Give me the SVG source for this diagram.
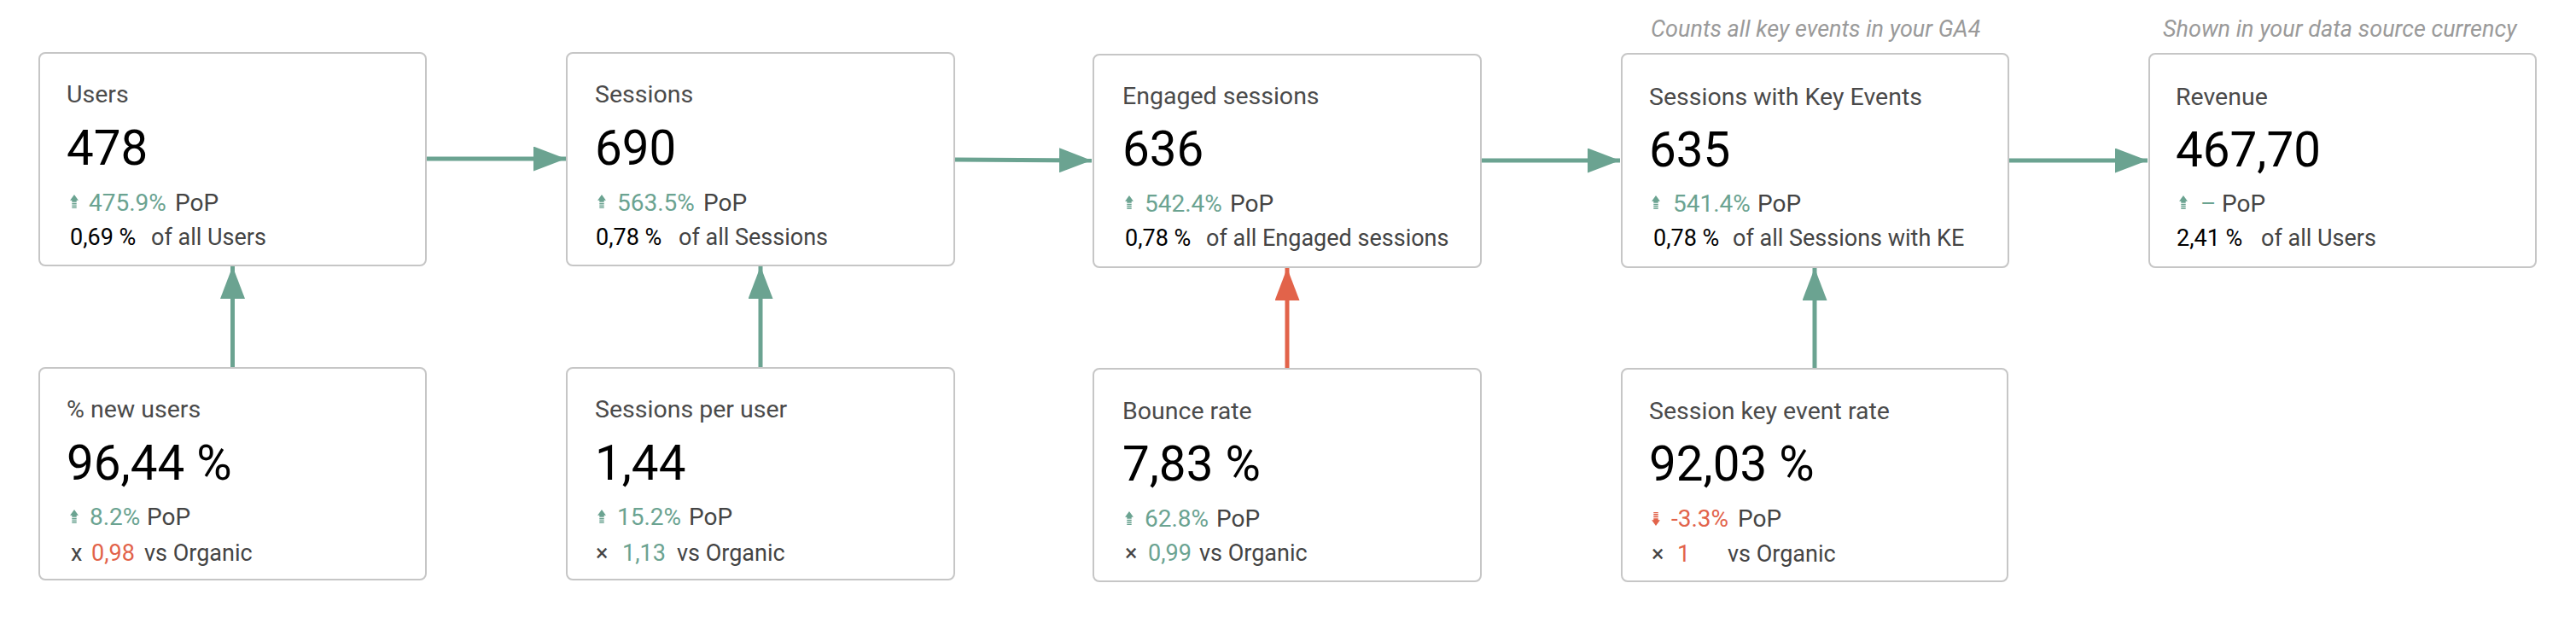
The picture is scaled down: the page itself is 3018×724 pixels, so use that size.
<svg xmlns="http://www.w3.org/2000/svg" xmlns:xlink="http://www.w3.org/1999/xlink" width="3018" height="724" viewBox="0 0 3018 724">
<style>
text{font-family:Roboto,"Liberation Sans",sans-serif}
.box{fill:#fff;stroke:#c6c6c6;stroke-width:2}
.t{font-size:28.5px;fill:#4a4a4a}
.v{font-size:56.5px;fill:#000}
.p{font-size:28px;fill:#444}
.g{fill:#6ba391}
.r{fill:#e2634a}
.s{font-size:27px;fill:#444}
.k{fill:#000}
.note{font-size:27px;font-style:italic;fill:#9a9a9a}
.ln{stroke-width:5;fill:none}
.lg{stroke:#6ba391}
.lr{stroke:#e2634a}
</style>
<defs>
<marker id="mg" markerUnits="userSpaceOnUse" markerWidth="38" markerHeight="29" refX="38" refY="14.5" orient="auto"><path d="M0,0 L38,14.5 L0,29 z" fill="#6ba391"/></marker>
<marker id="mr" markerUnits="userSpaceOnUse" markerWidth="38" markerHeight="29" refX="38" refY="14.5" orient="auto"><path d="M0,0 L38,14.5 L0,29 z" fill="#e2634a"/></marker>
<symbol id="up" viewBox="0 0 8 13" width="10" height="16"><path d="M4,0 L8,5.5 L0,5.5 z M1.8,5.5 h4.4 v1.6 h-4.4 z M1.8,8 h4.4 v1.4 h-4.4 z M1.8,10.2 h4.4 v1.2 h-4.4 z M1.8,12 h4.4 v1 h-4.4 z" fill="#6ba391"/></symbol>
<symbol id="down" viewBox="0 0 8 13" width="10" height="16"><path d="M4,13 L8,7.5 L0,7.5 z M1.8,5.9 h4.4 v1.6 h-4.4 z M1.8,3.6 h4.4 v1.4 h-4.4 z M1.8,1.6 h4.4 v1.2 h-4.4 z M1.8,0 h4.4 v1 h-4.4 z" fill="#e2634a"/></symbol>
</defs>

<g id="connectors">
<path class="ln lg" d="M499,186 L663,186" marker-end="url(#mg)"/>
<path class="ln lg" d="M1118,187 L1279,188" marker-end="url(#mg)"/>
<path class="ln lg" d="M1735,188 L1898,188" marker-end="url(#mg)"/>
<path class="ln lg" d="M2353,188 L2516,188" marker-end="url(#mg)"/>
<path class="ln lg" d="M272.5,431 L272.5,312" marker-end="url(#mg)"/>
<path class="ln lg" d="M891,431 L891,312" marker-end="url(#mg)"/>
<path class="ln lr" d="M1508,432 L1508,314" marker-end="url(#mr)"/>
<path class="ln lg" d="M2126,432 L2126,314" marker-end="url(#mg)"/>
</g>

<g id="note-key-events"><text class="note" x="1934" y="43">Counts all key events in your GA4</text></g>
<g id="note-revenue"><text class="note" x="2534" y="43">Shown in your data source currency</text></g>

<g id="users">
<rect class="box" x="46" y="62" width="453" height="249" rx="7"/>
<text class="t" x="78" y="120">Users</text>
<text class="v" x="78" y="193">478</text>
<use href="#up" x="82" y="228"/>
<text class="p" y="247"><tspan class="g" x="104">475.9%</tspan><tspan x="205">PoP</tspan></text>
<text class="s" y="287"><tspan class="k" x="82">0,69 %</tspan><tspan x="177">of all Users</tspan></text>
</g>

<g id="sessions">
<rect class="box" x="664" y="62" width="454" height="249" rx="7"/>
<text class="t" x="697" y="120">Sessions</text>
<text class="v" x="697" y="193">690</text>
<use href="#up" x="700" y="228"/>
<text class="p" y="247"><tspan class="g" x="723">563.5%</tspan><tspan x="824">PoP</tspan></text>
<text class="s" y="287"><tspan class="k" x="698">0,78 %</tspan><tspan x="795">of all Sessions</tspan></text>
</g>

<g id="engaged-sessions">
<rect class="box" x="1281" y="64" width="454" height="249" rx="7"/>
<text class="t" x="1315" y="122">Engaged sessions</text>
<text class="v" x="1315" y="194">636</text>
<use href="#up" x="1318" y="229"/>
<text class="p" y="248"><tspan class="g" x="1341">542.4%</tspan><tspan x="1441">PoP</tspan></text>
<text class="s" y="288"><tspan class="k" x="1318">0,78 %</tspan><tspan x="1413">of all Engaged sessions</tspan></text>
</g>

<g id="sessions-key-events">
<rect class="box" x="1900" y="63" width="453" height="250" rx="7"/>
<text class="t" x="1932" y="123">Sessions with Key Events</text>
<text class="v" x="1932" y="195">635</text>
<use href="#up" x="1935" y="229"/>
<text class="p" y="248"><tspan class="g" x="1960">541.4%</tspan><tspan x="2059">PoP</tspan></text>
<text class="s" y="288"><tspan class="k" x="1937">0,78 %</tspan><tspan x="2030">of all Sessions with KE</tspan></text>
</g>

<g id="revenue">
<rect class="box" x="2518" y="63" width="453" height="250" rx="7"/>
<text class="t" x="2549" y="123">Revenue</text>
<text class="v" x="2549" y="195">467,70</text>
<use href="#up" x="2553" y="229"/>
<text class="p" y="248"><tspan class="g" x="2578">–</tspan><tspan x="2603">PoP</tspan></text>
<text class="s" y="288"><tspan class="k" x="2550">2,41 %</tspan><tspan x="2649">of all Users</tspan></text>
</g>

<g id="new-users">
<rect class="box" x="46" y="431" width="453" height="248" rx="7"/>
<text class="t" x="78" y="489">% new users</text>
<text class="v" x="78" y="562">96,44 %</text>
<use href="#up" x="82" y="597"/>
<text class="p" y="615"><tspan class="g" x="105">8.2%</tspan><tspan x="172">PoP</tspan></text>
<text class="s" y="657"><tspan x="83">x</tspan><tspan class="r" x="107">0,98</tspan><tspan x="169">vs Organic</tspan></text>
</g>

<g id="sessions-per-user">
<rect class="box" x="664" y="431" width="454" height="248" rx="7"/>
<text class="t" x="697" y="489">Sessions per user</text>
<text class="v" x="697" y="562">1,44</text>
<use href="#up" x="700" y="597"/>
<text class="p" y="615"><tspan class="g" x="723">15.2%</tspan><tspan x="807">PoP</tspan></text>
<text class="s" y="657"><tspan x="698">×</tspan><tspan class="g" x="729">1,13</tspan><tspan x="793">vs Organic</tspan></text>
</g>

<g id="bounce-rate">
<rect class="box" x="1281" y="432" width="454" height="249" rx="7"/>
<text class="t" x="1315" y="491">Bounce rate</text>
<text class="v" x="1315" y="563">7,83 %</text>
<use href="#up" x="1318" y="599"/>
<text class="p" y="617"><tspan class="g" x="1341">62.8%</tspan><tspan x="1425">PoP</tspan></text>
<text class="s" y="657"><tspan x="1318">×</tspan><tspan class="g" x="1345">0,99</tspan><tspan x="1405">vs Organic</tspan></text>
</g>

<g id="session-key-event-rate">
<rect class="box" x="1900" y="432" width="452" height="249" rx="7"/>
<text class="t" x="1932" y="491">Session key event rate</text>
<text class="v" x="1932" y="563">92,03 %</text>
<use href="#down" x="1935" y="600"/>
<text class="p" y="617"><tspan class="r" x="1958">-3.3%</tspan><tspan x="2036">PoP</tspan></text>
<text class="s" y="658"><tspan x="1935">×</tspan><tspan class="r" x="1965">1</tspan><tspan x="2024">vs Organic</tspan></text>
</g>
</svg>
